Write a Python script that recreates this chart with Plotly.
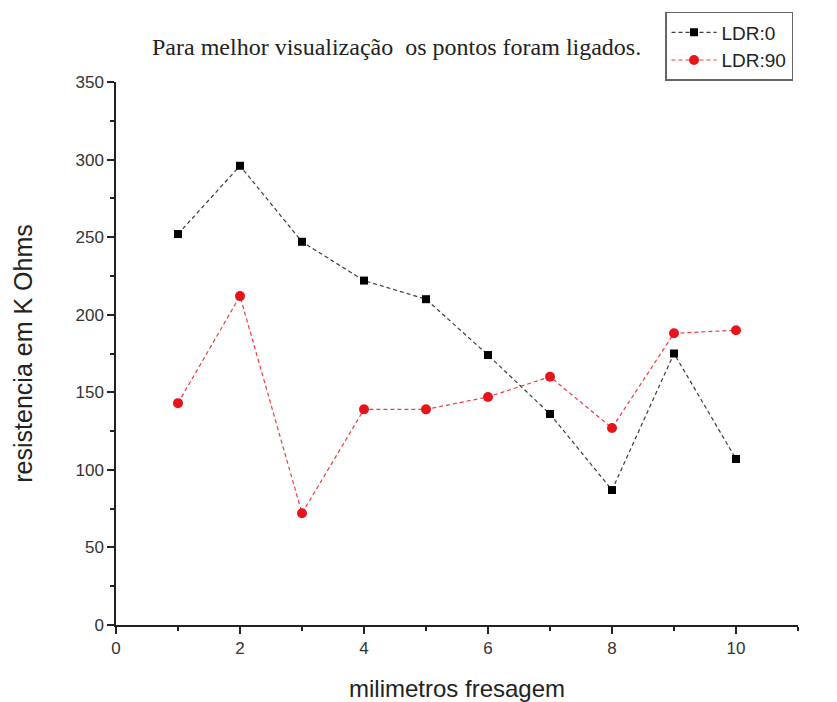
import plotly.graph_objects as go

x_mm = [1, 2, 3, 4, 5, 6, 7, 8, 9, 10]
ldr0 = [252, 296, 247, 222, 210, 174, 136, 87, 175, 107]
ldr90 = [143, 212, 72, 139, 139, 147, 160, 127, 188, 190]

fig = go.Figure()
fig.add_trace(go.Scatter(
    x=x_mm, y=ldr0, name="LDR:0", mode="lines+markers",
    line=dict(color="#3a3a3a", width=1.2, dash="4px,3px"),
    marker=dict(symbol="square", size=8, color="black")))
fig.add_trace(go.Scatter(
    x=x_mm, y=ldr90, name="LDR:90", mode="lines+markers",
    line=dict(color="#ee3a3e", width=1.2, dash="4px,3px"),
    marker=dict(symbol="circle", size=10, color="#e8141b")))

fig.update_layout(
    width=829, height=694,
    margin=dict(l=108, r=39, t=74, b=77, autoexpand=False),
    paper_bgcolor="white", plot_bgcolor="white",
    font=dict(family="Liberation Sans, Arial", color="#222"),
    showlegend=True,
    legend=dict(x=0.805, y=1.129, xanchor="left", yanchor="top",
                bordercolor="#666", borderwidth=1.5, bgcolor="white",
                font=dict(size=19, family="Liberation Sans, Arial", color="#222"),
                tracegroupgap=0, itemwidth=45),
    annotations=[dict(text="Para melhor visualização  os pontos foram ligados.",
                      xref="paper", yref="paper", x=0.412, y=1.064,
                      xanchor="center", yanchor="middle", showarrow=False,
                      font=dict(family="Liberation Serif, Times New Roman", size=24, color="#222"))],
)
fig.update_xaxes(range=[0, 11], showline=True, linecolor="#222", linewidth=1.5,
                 ticks="outside", ticklen=7, tickwidth=1.5, tickcolor="#222",
                 tickvals=[0, 2, 4, 6, 8, 10], showgrid=False, zeroline=False,
                 tickfont=dict(size=17, color="#333"), automargin=False,
                 minor=dict(tickvals=[1, 3, 5, 7, 9, 11], ticks="outside", ticklen=4, tickcolor="#222"),
                 title=dict(text="milimetros fresagem", font=dict(size=24, color="#222"), standoff=24))
fig.update_yaxes(range=[0, 350], showline=True, linecolor="#222", linewidth=1.5,
                 ticks="outside", ticklen=7, tickwidth=1.5, tickcolor="#222",
                 tickvals=[0, 50, 100, 150, 200, 250, 300, 350], showgrid=False, zeroline=False,
                 tickfont=dict(size=17, color="#333"), automargin=False,
                 minor=dict(tickvals=[25, 75, 125, 175, 225, 275, 325], ticks="outside", ticklen=4, tickcolor="#222"),
                 title=dict(text="resistencia em K Ohms", font=dict(size=25, color="#222"), standoff=36))

fig.write_html("out.html")
